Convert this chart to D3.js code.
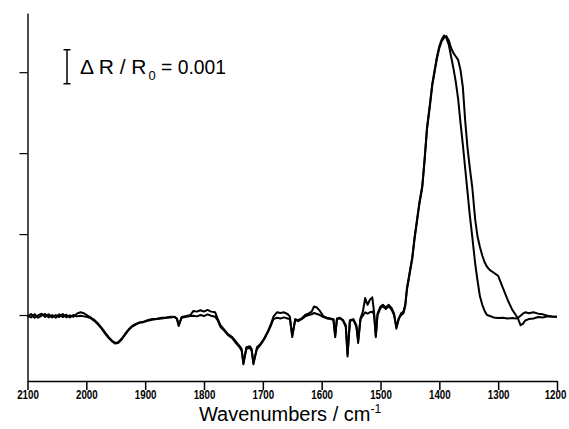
<!DOCTYPE html>
<html>
<head>
<meta charset="utf-8">
<script src="https://cdn.jsdelivr.net/npm/d3@7"></script>
<style>
  html, body { margin: 0; padding: 0; background: #fff; }
  svg { display: block; }
</style>
</head>
<body>
<svg id="chart" width="569" height="429"></svg>
<script>
// Wavenumber grid (cm^-1) shared by both spectra
const wavenumbers = [2100,2094,2088,2082,2076,2070,2064,2058,2052,2046,2040,2034,2028,2022,2016,2010,2004,1998,1992,1986,1980,1974,1968,1962,1956,1951,1946,1940,1934,1928,1922,1916,1910,1903,1896,1888,1880,1872,1864,1856,1850,1846,1843,1838,1830,1823,1818,1812,1806,1800,1794,1788,1781,1777,1772,1766,1760,1752,1745,1739,1736,1733,1728,1722,1719,1716,1710,1704,1698,1692,1687,1682,1676,1670,1664,1658,1654,1650,1645,1640,1634,1628,1622,1617,1613,1608,1603,1597,1591,1585,1580,1577,1574,1569,1564,1559,1556,1552,1546,1541,1538,1534,1530,1526,1522,1518,1514,1511,1508,1505,1500,1496,1491,1486,1481,1477,1473,1469,1465,1461,1458,1455,1451,1446,1442,1438,1434,1429,1425,1421,1416,1412,1408,1404,1400,1396,1392,1388,1384,1380,1376,1372,1368,1364,1360,1356,1352,1348,1344,1339,1335,1331,1327,1323,1319,1314,1308,1300,1292,1284,1276,1270,1266,1262,1258,1254,1248,1240,1232,1224,1216,1208,1200];

// Reflectance change ΔR/R0, in units of 1e-3
const spectrumA = [-0.05,0.03,-0.08,-0.01,0.04,-0.06,0.02,-0.07,0.0,-0.06,0.03,-0.07,-0.01,-0.05,0.04,0.08,0.05,-0.02,-0.08,-0.15,-0.25,-0.38,-0.52,-0.65,-0.76,-0.82,-0.8,-0.7,-0.55,-0.42,-0.32,-0.26,-0.22,-0.2,-0.15,-0.12,-0.11,-0.08,-0.07,-0.05,-0.06,-0.1,-0.32,-0.06,-0.03,0.0,0.12,0.1,0.14,0.1,0.15,0.1,0.08,-0.1,-0.3,-0.42,-0.55,-0.65,-0.8,-0.92,-1.0,-1.45,-0.95,-0.92,-1.0,-1.45,-0.95,-0.85,-0.7,-0.5,-0.3,-0.05,0.08,0.06,0.08,0.03,-0.05,-0.65,-0.12,-0.15,-0.1,0.0,0.05,0.1,0.25,0.22,0.12,-0.04,-0.08,-0.1,-0.12,-0.65,-0.1,-0.08,-0.14,-0.3,-1.22,-0.15,-0.12,-0.3,-0.82,-0.1,0.1,0.5,0.3,0.45,0.52,0.1,-0.65,0.05,0.25,0.3,0.22,0.3,0.2,0.05,-0.4,-0.1,0.05,0.1,0.3,0.8,1.2,1.7,2.3,2.8,3.3,3.8,4.6,5.5,6.2,6.8,7.2,7.6,7.9,8.1,8.22,8.15,7.95,7.6,7.25,6.85,6.35,5.65,5.0,4.3,3.6,2.9,2.3,1.5,1.0,0.55,0.3,0.12,0.0,-0.03,-0.07,-0.09,-0.08,-0.1,-0.09,-0.1,-0.08,-0.02,0.04,0.08,0.05,0.08,0.04,0.02,-0.02,-0.04,-0.05];

const spectrumB = [-0.02,-0.07,0.02,-0.08,-0.02,0.03,-0.07,0.0,-0.08,0.02,-0.06,0.01,-0.07,0.0,-0.04,-0.02,-0.04,-0.06,-0.1,-0.18,-0.28,-0.4,-0.55,-0.68,-0.78,-0.84,-0.82,-0.72,-0.58,-0.44,-0.34,-0.28,-0.23,-0.21,-0.17,-0.14,-0.12,-0.1,-0.08,-0.07,-0.05,-0.12,-0.3,-0.08,-0.05,-0.03,-0.02,-0.04,0.0,-0.03,0.02,-0.02,-0.05,-0.15,-0.35,-0.45,-0.58,-0.68,-0.84,-0.96,-1.05,-1.4,-1.0,-0.96,-1.05,-1.4,-1.0,-0.88,-0.72,-0.52,-0.34,-0.12,-0.08,-0.1,-0.07,-0.1,-0.12,-0.6,-0.15,-0.18,-0.12,-0.04,0.0,0.02,0.06,0.03,0.0,-0.06,-0.1,-0.12,-0.14,-0.6,-0.12,-0.1,-0.16,-0.35,-1.15,-0.18,-0.14,-0.35,-0.75,-0.12,-0.02,0.08,0.04,0.08,0.1,0.02,-0.6,0.0,0.2,0.26,0.18,0.26,0.15,0.0,-0.35,-0.12,0.0,0.05,0.25,0.75,1.15,1.65,2.25,2.75,3.25,3.75,4.55,5.45,6.15,6.75,7.15,7.55,7.85,8.05,8.15,8.2,8.08,7.85,7.7,7.6,7.5,7.2,6.7,5.7,4.9,4.3,3.75,2.8,2.3,2.0,1.75,1.55,1.42,1.32,1.25,1.15,0.8,0.45,0.15,0.0,-0.12,-0.3,-0.26,-0.16,-0.12,-0.1,-0.06,-0.07,-0.04,-0.05,-0.05];

const xTickValues = [2100,2000,1900,1800,1700,1600,1500,1400,1300,1200];
const yTickValues = [0, 2.38, 4.76, 7.14];

// Scale bar: spans 1e-3 in ΔR/R0
const scaleBarTop = 7.8;
const scaleBarSize = 1;
const scaleBarLabel = ["Δ R / R", "0", "= 0.001"];
const xTitle = ["Wavenumbers / cm", "-1"];

const FONT = "'Liberation Sans', Arial, sans-serif";
const svg = d3.select("#chart");

const x = d3.scaleLinear().domain([2100, 1200]).range([27.5, 557]);
const y = d3.scaleLinear().domain([-1.94, 8.88]).range([381, 13]);

// Axes
const xAxis = d3.axisBottom(x)
  .tickValues(xTickValues)
  .tickSize(9)
  .tickSizeOuter(0)
  .tickPadding(0)
  .tickFormat(d3.format("d"));

const gx = svg.append("g")
  .attr("transform", `translate(0,${y.range()[0]})`)
  .call(xAxis);

gx.select(".domain").attr("stroke", "#000").attr("stroke-width", 1.5);
gx.selectAll(".tick line").attr("stroke", "#000").attr("stroke-width", 1.5);
// Narrow bold tick labels
gx.selectAll(".tick text")
  .attr("fill", "#000")
  .attr("font-family", FONT)
  .attr("font-weight", "bold")
  .attr("font-size", 12.5)
  .attr("transform", d => `translate(${d === 1200 ? -2 : 0},0) scale(0.78,1)`);

const yAxis = d3.axisLeft(y)
  .tickValues(yTickValues)
  .tickSize(8)
  .tickSizeOuter(0)
  .tickFormat("");

const gy = svg.append("g")
  .attr("transform", `translate(${x.range()[0]},0)`)
  .call(yAxis);

gy.select(".domain").attr("stroke", "#000").attr("stroke-width", 1.4);
gy.selectAll(".tick line").attr("stroke", "#000").attr("stroke-width", 1.2);

// Spectra
const line = d3.line()
  .x((d, i) => x(wavenumbers[i]))
  .y(d => y(d));

[spectrumA, spectrumB].forEach(series => {
  svg.append("path")
    .datum(series)
    .attr("fill", "none")
    .attr("stroke", "#000")
    .attr("stroke-width", 2)
    .attr("stroke-linejoin", "round")
    .attr("d", line);
});

// Scale bar with caps
const barX = 67;
const barY1 = y(scaleBarTop);
const barY2 = y(scaleBarTop - scaleBarSize);
const bar = svg.append("g").attr("stroke", "#000").attr("stroke-width", 1.5);
bar.append("line").attr("x1", barX).attr("x2", barX).attr("y1", barY1).attr("y2", barY2);
bar.append("line").attr("x1", barX - 3.5).attr("x2", barX + 3.5).attr("y1", barY1).attr("y2", barY1);
bar.append("line").attr("x1", barX - 3.5).attr("x2", barX + 3.5).attr("y1", barY2).attr("y2", barY2);

// Scale bar label, built from separate pieces so the subscript sits cleanly
svg.append("text")
  .attr("x", 80).attr("y", 74)
  .attr("font-family", FONT).attr("font-size", 21).attr("fill", "#000")
  .text(scaleBarLabel[0]);
svg.append("text")
  .attr("x", 148.5).attr("y", 80)
  .attr("font-family", FONT).attr("font-size", 13).attr("fill", "#000")
  .text(scaleBarLabel[1]);
svg.append("text")
  .attr("x", 161).attr("y", 74)
  .attr("font-family", FONT).attr("font-size", 21).attr("fill", "#000")
  .attr("textLength", 65).attr("lengthAdjust", "spacingAndGlyphs")
  .text(scaleBarLabel[2]);

// X axis title
const title = svg.append("text")
  .attr("x", 290)
  .attr("y", 421)
  .attr("text-anchor", "middle")
  .attr("font-family", FONT)
  .attr("font-size", 20)
  .attr("fill", "#000");
title.append("tspan").text(xTitle[0]);
title.append("tspan").attr("font-size", 12).attr("dy", -8).text(xTitle[1]);
</script>
</body>
</html>
